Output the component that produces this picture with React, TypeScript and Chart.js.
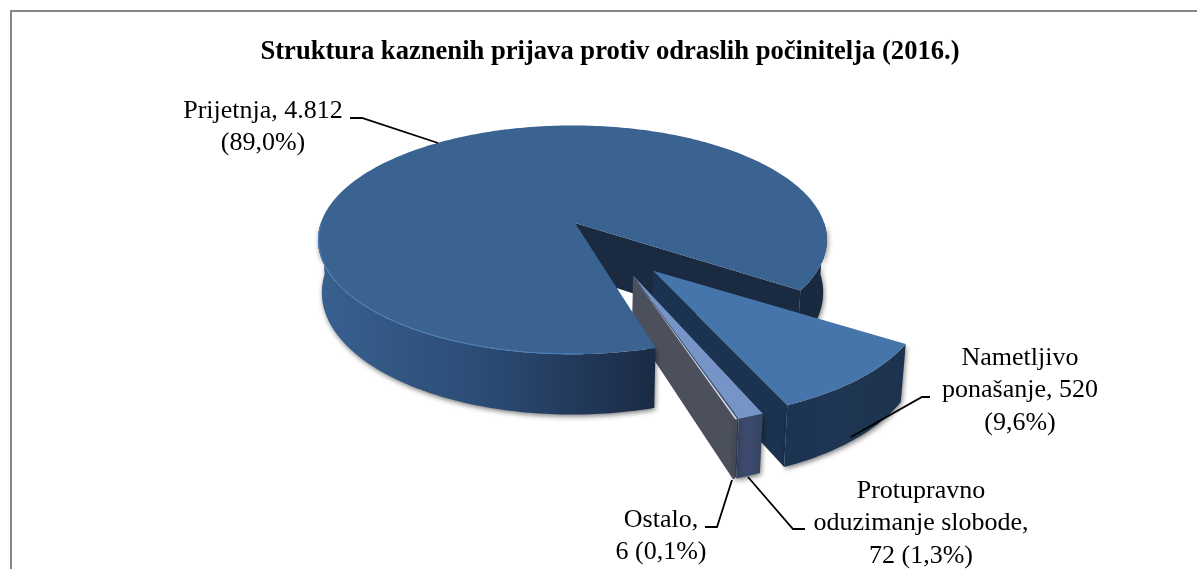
import React, { useEffect, useRef } from "react";
import { Chart, registerables } from "chart.js";

Chart.register(...registerables);

// ---- data ----
const categories = ["Prijetnja", "Nametljivo ponašanje", "Protupravno oduzimanje slobode", "Ostalo"];
const values = [4812, 520, 72, 6];
const titleText = "Struktura kaznenih prijava protiv odraslih počinitelja (2016.)";
const labelLines = [
  ["Prijetnja, 4.812", "(89,0%)"],
  ["Nametljivo", "ponašanje, 520", "(9,6%)"],
  ["Protupravno", "oduzimanje slobode,", "72 (1,3%)"],
  ["Ostalo,", "6 (0,1%)"],
];

// ---- style and layout ----
const WIDTH = 1197;
const HEIGHT = 569;
const CENTER_X = 574;
const CENTER_Y = 223;
const RADIUS = 255;
const TILT = 0.441;
const PERSPECTIVE = 0.00058;
const DEPTH = 50;
const BASE_SHRINK = 0.985;
const ROTATION = 163.5;
const offsets = [0, 126, 125, 125];
const directionSkew = [0, 2.8, -7.1, -9.5];
const angleTwist = [0, -1.2, -0.5, -0.3];
const radiusScale = [0.995, 0.985, 0.99, 0.99];
const widthScale = [0.992, 1, 1, 1];
const depthScale = [1.03, 1, 0.95, 0.95];
const centerShift = [-1.5, 0, 0, 0];
const apexShift = [2.5, 0, 0, 0];
const topColors = ["#3a6391", "#4675ac", "#7694c5", "#d3dae6"];
const faceColors = ["#1a2a40", "#1b3350", "#3b4a6b", "#4b505c"];
const rimStops: string[][] = [
  ["#38608f", "#2b4b74", "#1a2a44"],
  ["#1b3452", "#1f3653", "#1c324e"],
  ["#3a4868", "#3b4a6d", "#37445f"],
  ["#454b58", "#454b58", "#454b58"],
];
const BACK_RIM = "#19293f";
const RIM_HIGHLIGHT = "#5083bb";
const LABEL_FONT = '26px "Liberation Serif"';
const LINE_HEIGHT = 32.5;
const labelAnchors = [
  { x: 263, y: 111 },
  { x: 1020, y: 358 },
  { x: 921, y: 491 },
  { x: 661, y: 520 },
];
const leaders = [
  [[350, 118], [362, 118], [438, 143]],
  [[930, 397], [922, 397], [851, 437]],
  [[805, 529], [793, 529], [748, 477]],
  [[705, 527], [717, 527], [732, 480]],
];

type Pt = [number, number];

function project(u: number, v: number, depth: number): Pt {
  const s = 1 / (1 - PERSPECTIVE * v);
  let x = CENTER_X + u * s;
  let y = CENTER_Y + TILT * v * s;
  if (depth > 0) {
    y += DEPTH * depth * s;
    x = CENTER_X + (x - CENTER_X) * BASE_SHRINK;
  }
  return [x, y];
}

function tracePoly(ctx: CanvasRenderingContext2D, pts: Pt[]) {
  ctx.beginPath();
  pts.forEach((p, i) => (i ? ctx.lineTo(p[0], p[1]) : ctx.moveTo(p[0], p[1])));
  ctx.closePath();
}

function drawPie(chart: any, ctx: CanvasRenderingContext2D) {
  const arcs = chart.getDatasetMeta(0).data as any[];

  const geom = arcs.map((arc, i) => {
    const { startAngle, endAngle, outerRadius } = arc.getProps(["startAngle", "endAngle", "outerRadius"]);
    const mid = (startAngle + endAngle) / 2;
    const dir = mid + (directionSkew[i] * Math.PI) / 180;
    const off = arc.options.offset || 0;
    const ox = off * Math.cos(dir) + centerShift[i];
    const oy = off * Math.sin(dir);
    const r = outerRadius * radiusScale[i];
    const twist = (angleTwist[i] * Math.PI) / 180;
    const at = (t: number, rad: number, bottom: boolean) => {
      const depth = bottom ? depthScale[i] : 0;
      return rad === 0
        ? project(ox + apexShift[i], oy, depth)
        : project(ox + rad * widthScale[i] * Math.cos(t), oy + rad * Math.sin(t), depth);
    };
    return { a: startAngle + twist, b: endAngle + twist, r, at };
  });

  const sample = (a: number, b: number) => {
    const n = Math.max(2, Math.ceil(Math.abs(b - a) / (Math.PI / 180)));
    const out: number[] = [];
    for (let i = 0; i <= n; i++) out.push(a + ((b - a) * i) / n);
    return out;
  };

  const drawFaces = (i: number) => {
    const g = geom[i];
    const face = (t: number) => {
      tracePoly(ctx, [g.at(t, 0, false), g.at(t, g.r, false), g.at(t, g.r, true), g.at(t, 0, true)]);
      ctx.fillStyle = faceColors[i];
      ctx.fill();
    };
    if (Math.cos(g.a) < 0) face(g.a);
    if (Math.cos(g.b) > 0) face(g.b);
  };

  const drawRim = (i: number, a: number, b: number, flat?: string) => {
    if (b <= a) return;
    const g = geom[i];
    const ts = sample(a, b);
    const top = ts.map((t) => g.at(t, g.r, false));
    const bot = ts.map((t) => g.at(t, g.r, true)).reverse();
    const xs = top.map((p) => p[0]);
    const x0 = Math.min(...xs);
    const x1 = Math.max(...xs);
    const grad = ctx.createLinearGradient(x0, 0, Math.max(x1, x0 + 1), 0);
    rimStops[i].forEach((c, k) => grad.addColorStop(k / 2, c));
    tracePoly(ctx, [...top, ...bot]);
    ctx.save();
    ctx.shadowColor = "rgba(0,0,0,0.5)";
    ctx.shadowBlur = 5;
    ctx.shadowOffsetX = 1;
    ctx.shadowOffsetY = 2;
    ctx.fillStyle = flat || grad;
    ctx.fill();
    ctx.restore();
  };

  const drawTop = (i: number) => {
    const g = geom[i];
    const pts = sample(g.a, g.b).map((t) => g.at(t, g.r, false));
    tracePoly(ctx, [g.at(0, 0, false), ...pts]);
    ctx.fillStyle = topColors[i];
    ctx.fill();
  };

  const TAU = Math.PI * 2;
  const main = geom[0];
  // back part of the large slice
  drawRim(0, TAU, main.b, BACK_RIM);
  drawFaces(0);
  // detached slices
  [1, 2, 3].forEach((i) => {
    const g = geom[i];
    drawFaces(i);
    drawRim(i, g.a, g.b);
    drawTop(i);
  });
  // front part of the large slice
  drawRim(0, main.a, Math.PI);
  drawTop(0);
  // thin light bevel on the front edge of the large slice
  const bevel = sample(main.a + 0.25, Math.PI).map((t) => main.at(t, main.r - 0.5, false));
  ctx.beginPath();
  bevel.forEach((p, k) => (k ? ctx.lineTo(p[0], p[1]) : ctx.moveTo(p[0], p[1])));
  ctx.strokeStyle = RIM_HIGHLIGHT;
  ctx.lineWidth = 1;
  ctx.stroke();
}

const pie3d = {
  id: "pie3d",
  beforeDraw(chart: any) {
    const ctx = chart.ctx as CanvasRenderingContext2D;
    ctx.save();
    ctx.fillStyle = "#ffffff";
    ctx.fillRect(0, 0, WIDTH, HEIGHT);
    ctx.fillStyle = "#868686";
    ctx.fillRect(10, 10, WIDTH - 10, 2);
    ctx.fillRect(10, 10, 2, HEIGHT - 10);
    ctx.restore();
  },
  beforeDatasetsDraw(chart: any) {
    const ctx = chart.ctx as CanvasRenderingContext2D;
    ctx.save();
    drawPie(chart, ctx);
    ctx.restore();
    return false;
  },
  afterDraw(chart: any) {
    const ctx = chart.ctx as CanvasRenderingContext2D;
    ctx.save();
    ctx.strokeStyle = "#000000";
    ctx.lineWidth = 1.8;
    leaders.forEach((l) => {
      ctx.beginPath();
      l.forEach((p, i) => (i ? ctx.lineTo(p[0], p[1]) : ctx.moveTo(p[0], p[1])));
      ctx.stroke();
    });
    ctx.fillStyle = "#000000";
    ctx.font = LABEL_FONT;
    ctx.textAlign = "center";
    ctx.textBaseline = "middle";
    labelLines.forEach((lines, i) => {
      lines.forEach((t, k) => ctx.fillText(t, labelAnchors[i].x, labelAnchors[i].y + k * LINE_HEIGHT));
    });
    ctx.restore();
  },
};

export default function App() {
  const ref = useRef<HTMLCanvasElement | null>(null);
  useEffect(() => {
    document.body.style.margin = "0";
    const chart = new Chart(ref.current as HTMLCanvasElement, {
      type: "pie",
      data: {
        labels: categories,
        datasets: [{ data: values, backgroundColor: topColors, offset: offsets, borderWidth: 0, radius: RADIUS } as any],
      },
      options: {
        responsive: false,
        animation: false,
        rotation: ROTATION,
        layout: { padding: { left: 23, top: 0 } },
        plugins: {
          legend: { display: false },
          tooltip: { enabled: false },
          title: {
            display: true,
            text: titleText,
            color: "#000000",
            fullSize: true,
            font: { family: '"Liberation Serif"', size: 26.6, weight: "bold" },
            padding: { top: 36, bottom: 10 },
          },
        },
      } as any,
      plugins: [pie3d],
    });
    return () => chart.destroy();
  }, []);
  return <canvas ref={ref} width={WIDTH} height={HEIGHT} style={{ display: "block" }} />;
}
